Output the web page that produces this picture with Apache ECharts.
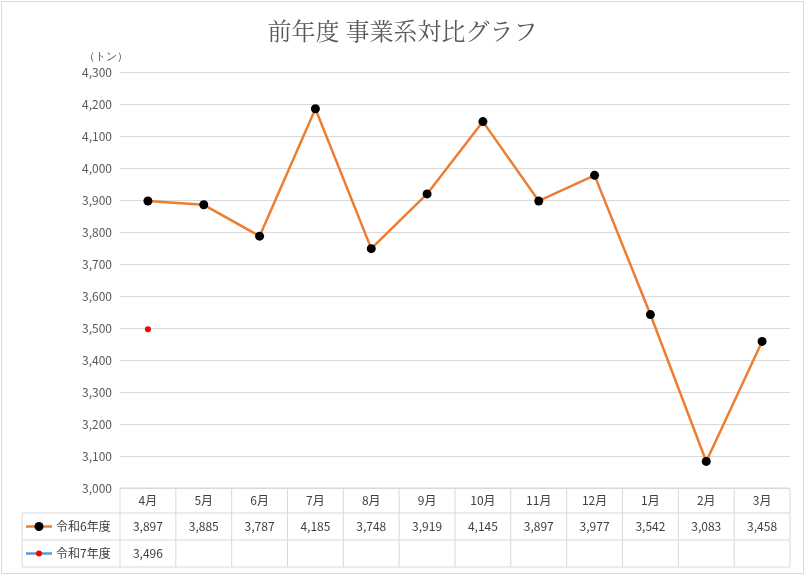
<!DOCTYPE html>
<html><head><meta charset="utf-8">
<script src="https://cdn.jsdelivr.net/npm/echarts@6/dist/echarts.min.js"></script>
<style>html,body{margin:0;padding:0;background:#fff}#c{width:805px;height:575px}</style>
</head><body><div id="c"></div>
<script>
const categories = ['4月','5月','6月','7月','8月','9月','10月','11月','12月','1月','2月','3月'];
const seriesNames = ['令和6年度','令和7年度'];
const r6 = [3897,3885,3787,4185,3748,3919,4145,3897,3977,3542,3083,3458];
const r7 = [3496,null,null,null,null,null,null,null,null,null,null,null];
const fmt = v => v.toLocaleString('en-US');
const chart = echarts.init(document.getElementById('c'));
const gl = 120, gr = 15, gt = 72, gb = 87;
chart.setOption({
  animation:false,
  title:{text:'前年度 事業系対比グラフ',left:'center',top:14,textStyle:{fontFamily:'"Noto Serif CJK JP","Noto Sans CJK JP",serif',fontSize:24,fontWeight:'normal',color:'#595959'}},
  grid:{left:gl,right:gr,top:gt,bottom:gb},
  xAxis:{type:'category',data:categories,boundaryGap:true,axisLine:{show:false},axisTick:{show:false},axisLabel:{show:false}},
  yAxis:{type:'value',min:3000,max:4300,interval:100,name:'（トン）',nameLocation:'end',nameGap:10,
    nameTextStyle:{color:'#595959',fontSize:11,align:'right',padding:[0,-8,0,0]},
    axisLabel:{formatter:fmt,color:'#595959',fontSize:12,fontFamily:'"Noto Sans CJK JP"'},
    axisLine:{show:false},axisTick:{show:false},splitLine:{lineStyle:{color:'#d9d9d9'}}},
  series:[
    {name:seriesNames[0],type:'line',data:r6,symbol:'circle',symbolSize:9,itemStyle:{color:'#000'},lineStyle:{color:'#ED7D31',width:2.5}},
    {name:seriesNames[1],type:'line',data:r7,symbol:'circle',symbolSize:6,itemStyle:{color:'#FF0000'},lineStyle:{color:'#5B9BD5',width:2.5}}
  ]
});
const x0 = chart.convertToPixel({xAxisIndex:0},0), x1 = chart.convertToPixel({xAxisIndex:0},1);
const cw = x1 - x0;
const tLeft = gl, tRight = 805-gr, tTop = 575-gb;
const rowH = [25,27,27];
const lineC = '#d9d9d9', txtC = '#404040';
const els = [];
let ys=[tTop]; rowH.forEach(h=>ys.push(ys[ys.length-1]+h));
ys.forEach((y,i)=>els.push({type:'line',shape:{x1:i===0?tLeft:22,y1:y,x2:tRight,y2:y},style:{stroke:lineC,lineWidth:1}}));
els.push({type:'line',shape:{x1:22,y1:ys[1],x2:22,y2:ys[3]},style:{stroke:lineC}});
for(let i=0;i<=categories.length;i++){const x=tLeft+i*cw;els.push({type:'line',shape:{x1:x,y1:ys[0],x2:x,y2:ys[3]},style:{stroke:lineC}});}
categories.forEach((c,i)=>els.push({type:'text',x:tLeft+(i+0.5)*cw,y:(ys[0]+ys[1])/2,style:{text:c,align:'center',verticalAlign:'middle',fill:txtC,fontSize:12,fontFamily:'"Noto Sans CJK JP"'}}));
[r6,r7].forEach((arr,r)=>{
  const yc=(ys[r+1]+ys[r+2])/2;
  arr.forEach((v,i)=>{if(v!=null)els.push({type:'text',x:tLeft+(i+0.5)*cw,y:yc,style:{text:fmt(v),align:'center',verticalAlign:'middle',fill:txtC,fontSize:12,fontFamily:'"Noto Sans CJK JP"'}});});
  const lc=r===0?'#ED7D31':'#5B9BD5', mc=r===0?'#000':'#FF0000';
  els.push({type:'line',shape:{x1:26,y1:yc,x2:52,y2:yc},style:{stroke:lc,lineWidth:2.5}});
  els.push({type:'circle',shape:{cx:39,cy:yc,r:r===0?4.5:3},style:{fill:mc}});
  els.push({type:'text',x:56,y:yc,style:{text:seriesNames[r],verticalAlign:'middle',fill:txtC,fontSize:12,fontFamily:'"Noto Sans CJK JP"'}});
});
els.push({type:'rect',shape:{x:1.5,y:1.5,width:802,height:572},style:{fill:null,stroke:'#d9d9d9'}});
chart.setOption({graphic:{elements:els}});
</script></body></html>
